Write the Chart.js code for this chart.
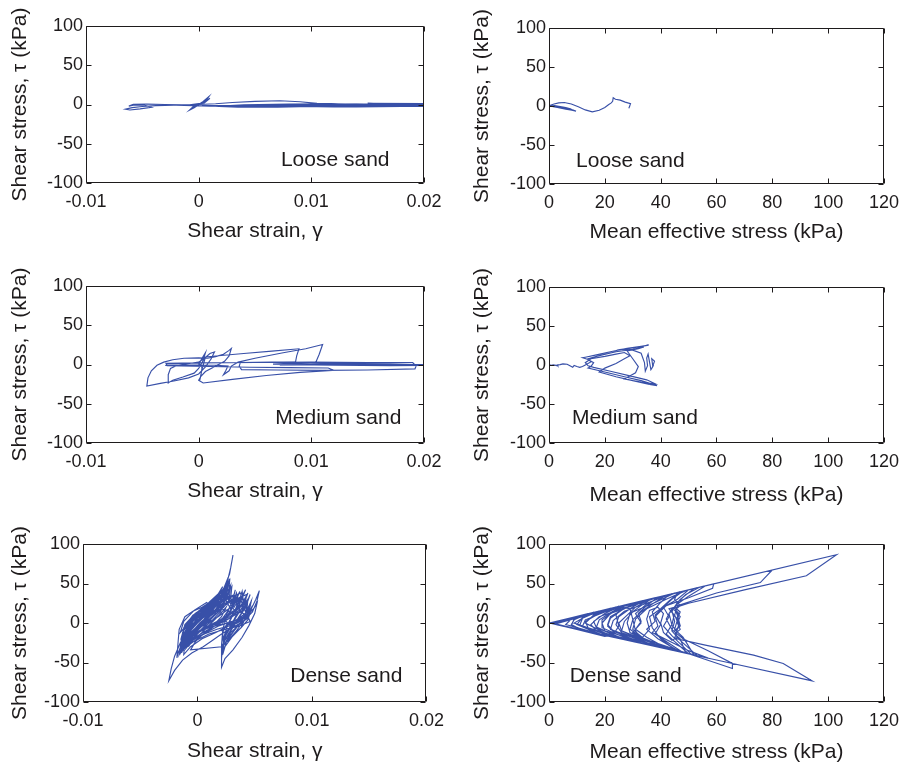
<!DOCTYPE html>
<html lang="en">
<head>
<meta charset="UTF-8">
<title>Shear stress response of loose, medium and dense sand</title>
<script src="https://cdn.jsdelivr.net/npm/chart.js"></script>
<style>
  html, body { margin: 0; padding: 0; background: #fff; overflow: hidden; }
  canvas { position: absolute; }
</style>
</head>
<body>
<canvas id="looseStrain"></canvas>
<canvas id="loosePath"></canvas>
<canvas id="mediumStrain"></canvas>
<canvas id="mediumPath"></canvas>
<canvas id="denseStrain"></canvas>
<canvas id="densePath"></canvas>
<script>
// axis ticks
const strainTicks = [-0.01, 0, 0.01, 0.02];
const strainTickLabels = ['-0.01', '0', '0.01', '0.02'];
const meanStressTicks = [0, 20, 40, 60, 80, 100, 120];
const meanStressTickLabels = ['0', '20', '40', '60', '80', '100', '120'];
const tauTicks = [-100, -50, 0, 50, 100];
const tauTickLabels = ['-100', '-50', '0', '50', '100'];

// loose sand: [shear strain, shear stress kPa]
const looseStrainLoop = [
  [0, 0], [0.0004, 4], [0.0009, 10], [0.0007, 6], [0.0002, 1.5], [-0.0004, -4], [-0.0008, -7], [-0.0005, -3],
  [0.0002, 1], [0.0007, 5], [0.001, 8], [0.0005, 2], [-0.0008, -0.5], [-0.0022, -1], [-0.0038, -1.5], [-0.005, -2.5],
  [-0.0059, -4], [-0.0065, -6], [-0.0061, -7], [-0.0052, -5.5], [-0.0042, -3.5], [-0.0048, -1], [-0.0057, -0.5],
  [-0.0062, -2], [-0.0058, 0.3], [-0.0046, 0.5], [-0.003, 0], [-0.0015, -0.5], [0, 0], [0.0015, 1], [0.003, 2.5],
  [0.005, 4], [0.0072, 4.8], [0.009, 3.5], [0.0105, 1.5], [0.013, 0.3], [0.016, -0.5], [0.0185, -1], [0.0205, -1.5],
  [0.019, 0.5], [0.016, 1], [0.0125, -0.5], [0.0085, -2], [0.0055, -3], [0.0035, -3.5], [0.0018, -2.5], [0.0003, -1],
  [0.0035, -1.5], [0.007, -0.5], [0.011, -1], [0.015, -1.5], [0.0205, -2], [0.0175, 0], [0.013, 0.5], [0.0095, -1],
  [0.006, -2.5], [0.0045, -2], [0.008, -1.5], [0.012, -2], [0.0165, -1], [0.0205, -0.5], [0.0185, 1], [0.0145, 0],
  [0.0115, -1.5], [0.015, -2.5], [0.0205, -1], [0.016, -2], [0.011, -2.5], [0.007, -3], [0.009, -1], [0.014, 0.5],
  [0.0205, 0.5], [0.017, -1], [0.012, -2], [0.006, -1], [0.003, -2], [0, -1.5], [-0.002, -1], [0.001, -2],
  [0.005, -1], [0.01, -2], [0.0205, -1.5], [0.018, -2.5], [0.014, -3], [0.01, -2.5], [0.007, -3.5], [0.004, -3],
  [0.002, -2], [0.004, -0.5], [0.008, 0.5], [0.012, 1], [0.016, 0], [0.0205, -0.5], [0.017, -2], [0.013, -1.5],
  [0.009, -2.5], [0.012, -3], [0.016, -2.5], [0.0205, -2.5], [0.018, -0.5], [0.015, 1.5], [0.0205, 1]
];
// loose sand: [mean effective stress kPa, shear stress kPa]
const loosePath = [
  [29, 0.5], [28.6, -3], [29.2, 3], [27.3, 5], [25.5, 7.5], [23.8, 8.7], [23, 10.5], [22.8, 6], [22.3, 4], [21.3, 1.5],
  [20, -2], [18, -5.5], [15.5, -7.5], [13, -5], [10.5, -1], [8, 2.5], [5.5, 4.5], [3.5, 4], [1.8, 2.5], [0.5, 1],
  [0, 0], [3, -1.5], [6, -3.5], [9.7, -6.5], [7, -4.5], [4, -2.5], [1.5, -1], [0.2, 0.3], [2, -1], [5, -3], [8, -5],
  [9.3, -6], [6, -4], [3, -2], [0.8, -0.3], [0.2, 0.5], [3, -0.8], [7, -3.5], [9, -5.5], [5, -2.5], [2, -0.8],
  [0.3, 0.2], [4, -1], [8, -4], [6, -2], [2, 0.5], [0, 0]
];

// medium sand
const mediumStrainLoop = [
  [0, 0], [0.0003, 8], [0.0006, 15], [0.0004, 5], [0, -5], [-0.0004, -11], [-0.0014, -16], [-0.0023, -20],
  [-0.0027, -23.5], [-0.0027, -13], [-0.0025, -5], [-0.0019, -1], [-0.001, 1], [0, 3], [0.0006, 9], [0.001, 14],
  [0.0014, 16], [0.0011, 7], [0.0006, -3], [0, -12], [-0.0009, -17], [-0.0022, -21], [-0.0034, -24], [-0.0046, -27.5],
  [-0.0045, -17], [-0.0042, -8], [-0.0037, -1], [-0.0031, 3], [-0.0023, 6], [-0.0013, 8], [0, 8.5], [0.0008, 8],
  [0.0015, 10], [0.0022, 13], [0.0027, 18], [0.0029, 20.5], [0.0027, 11], [0.0023, 4], [0.0014, -3], [0.0006, -9],
  [0.0002, -15], [0, -20], [0.0004, -23.5], [0.003, -19], [0.006, -14], [0.009, -10], [0.012, -7.5], [0.0115, -4.5],
  [0.008, -4], [0.0045, -3.5], [0.001, -2.5], [-0.0028, -1.5], [-0.0029, 1.5], [0, 2], [0.0003, -4], [0.0002, -14],
  [0.0001, -20], [0.0003, -6], [0.0006, 9.5], [0.002, 11.5], [0.004, 14], [0.0065, 17], [0.0089, 20], [0.0087, 11],
  [0.0086, 3.5], [0.0065, 3], [0.0037, 2.5], [0.0036, -2], [0.0038, -6.5], [0.007, -7], [0.011, -7.5], [0.015, -7],
  [0.0192, -5.5], [0.0193, -2], [0.019, 2.5], [0.015, 2.5], [0.01, 3], [0.005, 2.5], [0, 2], [-0.0028, 1],
  [-0.0029, -1], [-0.001, -0.5], [0.0015, -1], [0.0026, -2], [0.0024, -8], [0.0022, -13], [0.0027, -8], [0.0029, -2],
  [0.0035, 3], [0.005, 8], [0.0075, 15], [0.0095, 20], [0.011, 25.5], [0.0107, 13], [0.0104, 3], [0.008, 1.5],
  [0.0066, 0.5], [0.01, 0], [0.014, -0.5], [0.018, -1], [0.0205, -0.5], [0.017, 1], [0.012, 1.5], [0.0068, 0],
  [0.012, -1], [0.017, -1.5], [0.0205, -1], [0.016, 0.5], [0.011, 0], [0.0072, -1], [0.013, 0.5], [0.0205, 0]
];
const mediumPath = [
  [37.5, 0], [37, -3], [37.8, 5], [36.8, 8], [37.2, -2], [36.5, -6], [36, 4], [35.5, 14], [35, 9], [35.3, -1],
  [34.5, -8], [34.2, 3], [33, 15], [30, 19], [26, 20], [30, 22], [35.7, 25.5], [33, 24], [28, 21.5], [22, 17],
  [17, 13], [13, 10], [12, 9.3], [14, 7], [16, 3], [15, -2], [14, -4], [20, -9], [27, -15], [33, -20], [38.7, -26.4],
  [36, -25], [30, -20], [24, -15], [18, -9], [20, -4], [24, 2], [27, 8], [29, 12], [27, 16], [24, 14], [20, 11],
  [15, 8], [13, 3], [14, -1], [16, -3], [22, -8], [29, -14], [35, -19], [38, -24], [33, -22], [27, -18], [31, -10],
  [32, -2], [30, 8], [28, 18], [32, 21], [34, 23], [30, 20], [24, 17], [18, 12], [14, 8], [15, 4], [13, 0], [12, -2],
  [11, -3], [10, -2], [9, -0.5], [8.5, -3], [7.5, -1], [6.5, 1], [5, 1.5], [4, 0.5], [3, 0], [3.2, -1.2],
  [2.5, -0.5], [1.5, 0.3], [1, -0.5], [0.5, 0], [0, 0.3]
];

// dense sand
const denseStrainLoop = [
  [0, 0], [0.0006, 14], [0.0012, 24], [0.0008, 10], [0.0002, -4], [-0.0005, -16], [-0.0009, -24], [-0.0006, -8],
  [0, 6], [0.0009, 20], [0.0017, 32], [0.0022, 42], [0.0018, 26], [0.0011, 12], [0.0003, -2], [-0.0006, -16],
  [-0.0012, -28], [-0.0014, -35], [-0.0012, -18], [-0.0008, -4], [0, 10], [0.001, 22], [0.002, 34], [0.0026, 48],
  [0.0028, 56], [0.0025, 40], [0.0019, 26], [0.0012, 14], [0.0003, 0], [-0.0006, -12], [-0.0013, -24], [-0.0017, -38],
  [-0.0018, -44], [-0.0017, -25], [-0.0016, -8], [-0.0011, 8], [-0.0004, 15], [0.0004, 20], [0.0015, 30], [0.0023, 44],
  [0.0028, 62], [0.0031, 86], [0.0029, 70], [0.0026, 52], [0.0021, 36], [0.0012, 20], [0.0002, 6], [-0.0008, -10],
  [-0.0015, -25], [-0.002, -42], [-0.0023, -58], [-0.0025, -73], [-0.002, -60], [-0.0013, -47], [-0.0005, -38],
  [0.0005, -30], [0.0012, -23], [0.0021, -14], [0.003, -6], [0.004, 2], [0.0048, 14], [0.0052, 28], [0.0054, 41],
  [0.0051, 30], [0.0046, 15], [0.0038, 4], [0.003, -4], [0.0024, -14], [0.0022, -30], [0.0021, -45], [0.0021, -56],
  [0.0024, -45], [0.0031, -34], [0.0039, -18], [0.0045, -3], [0.005, 12], [0.0052, 25], [0.0049, 18], [0.0042, 8],
  [0.0034, 2], [0.0026, -2], [0.0022, -10], [0.0021, -28], [0.0021, -42], [0.0024, -30], [0.003, -18], [0.0038, -6],
  [0.0043, 10], [0.0045, 22], [0.0042, 12], [0.0034, 4], [0.0026, 0], [0.0018, -4], [0.001, -10], [0, -18],
  [-0.0008, -26], [-0.0013, -35], [-0.0011, -15], [-0.0006, 0], [0.0004, 12], [0.0014, 22], [0.0022, 30],
  [0.0027, 42], [0.0029, 48], [0.0028, 35], [0.0031, 25], [0.0034, 38], [0.0036, 25], [0.0039, 40], [0.004, 28],
  [0.0036, 16], [0.0028, 6], [0.0018, 0], [0.0006, -8], [-0.0004, -16], [-0.0011, -30], [-0.0009, -12],
  [-0.0004, 2], [0.0006, 14], [0.0016, 26], [0.0024, 36], [0.0026, 40], [0.0025, 28], [0.0029, 18], [0.0033, 30],
  [0.0035, 18], [0.0038, 28], [0.0041, 18], [0.0043, 26], [0.0042, 10], [0.0034, 2], [0.0025, -3], [0.0022, -12],
  [0.0023, -35], [0.0026, -20], [0.0033, -8], [0.004, 5], [0.0044, 18], [0.0046, 24], [0.0043, 8], [0.0035, 0],
  [0.0027, -4], [0.0017, -8], [0.0006, -14], [-0.0005, -22], [-0.0012, -32], [-0.0013, -20], [-0.0009, -4],
  [-0.0002, 8], [0.0008, 18], [0.0018, 28], [0.0026, 44], [0.0028, 52], [0.0027, 36], [0.0021, 22], [0.0012, 10],
  [0.0002, -2], [-0.0007, -14], [-0.0012, -26], [-0.001, -8], [-0.0005, 5], [0.0005, 15], [0.0015, 24],
  [0.0022, 33], [0.0028, 30], [0.0032, 20], [0.0037, 32], [0.004, 22], [0.0044, 30], [0.0043, 14], [0.0036, 5],
  [0.0028, 0], [0.002, -2], [0.001, -6], [0, -12], [-0.0008, -20], [-0.0011, -22], [-0.0008, -6], [0, 4],
  [0.001, 12], [0.002, 18], [0.0026, 16], [0.0032, 10], [0.0038, 14], [0.0044, 8], [0.0046, 2],
  [0.0036, -4], [0.0024, -8], [0.001, -14], [-0.0004, -24], [-0.0014, -32], [-0.0006, -6], [0.001, 16],
  [0.0025, 40], [0.0022, 24], [0.0008, 6], [-0.0006, -14], [-0.0013, -30], [-0.0011, -14], [-0.0003, 4],
  [0.0012, 20], [0.0028, 44], [0.0026, 30], [0.0012, 12], [-0.0003, -8], [-0.0012, -26], [-0.001, -12], [0, 6],
  [0.0015, 22], [0.0032, 36], [0.0031, 22], [0.0018, 8], [0.0004, -4], [-0.0009, -22], [-0.0014, -38],
  [-0.001, -20], [0.0002, 0], [0.0017, 18], [0.0035, 34], [0.0034, 18], [0.002, 4], [0.0006, -6], [-0.0008, -18],
  [-0.0005, -4], [0.0006, 10], [0.0019, 26], [0.0038, 38], [0.0037, 22], [0.0025, 8], [0.001, -4], [-0.0004, -16],
  [-0.0012, -28], [-0.0009, -10], [0.0003, 8], [0.0016, 22], [0.0027, 34], [0.0041, 30], [0.0039, 16], [0.0026, 4],
  [0.0012, -6], [-0.0002, -18], [-0.001, -32], [-0.0006, -16], [0.0005, 2], [0.0018, 16], [0.003, 28], [0.0043, 36],
  [0.0041, 20], [0.0028, 8], [0.0016, 0], [0.0003, -10], [-0.0009, -24], [-0.0007, -8], [0.0004, 8], [0.0017, 24],
  [0.0025, 46], [0.0023, 30], [0.0012, 16], [0, 0], [-0.001, -16], [-0.0015, -30], [-0.0013, -12], [-0.0007, 2],
  [0.0005, 16], [0.0019, 30], [0.0027, 50], [0.0025, 34], [0.0015, 20], [0.0003, 4], [-0.0008, -10],
  [-0.0014, -24], [-0.0012, -6], [-0.0004, 10], [0.001, 22], [0.0024, 38], [0.0029, 24], [0.0033, 14],
  [0.0039, 24], [0.0042, 14], [0.0045, 20], [0.0044, 6], [0.0036, -2], [0.0028, -8], [0.0023, -20], [0.0022, -40],
  [0.0025, -24], [0.0031, -12], [0.0037, 0], [0.0042, 12], [0.0047, 28], [0.0045, 14], [0.0038, 4], [0.003, -2],
  [0.0024, -6], [0.0016, -12], [0.0004, -20], [-0.0006, -30], [-0.0012, -40], [-0.0011, -22], [-0.0006, -6],
  [0.0003, 8], [0.0013, 18], [0.0021, 26], [0.0026, 36], [0.003, 46], [0.0029, 32], [0.0023, 20], [0.0014, 8],
  [0.0004, -4], [-0.0006, -18], [-0.001, -28], [-0.0007, -12], [0, 2], [0.001, 12], [0.002, 20], [0.0027, 28],
  [0.0033, 26], [0.0038, 34], [0.0041, 24],
  [-0.0015, -36], [-0.0008, -22], [0.0002, -6], [0.0012, 10], [0.002, 24], [0.0024, 34], [0.0016, 18],
  [0.0006, 2], [-0.0004, -14], [-0.0012, -30], [-0.0016, -40], [-0.0014, -26], [-0.0008, -12], [0.0001, 4],
  [0.0011, 18], [0.0019, 30], [0.0023, 40], [0.0018, 30], [0.0008, 14], [-0.0002, -2], [-0.001, -18],
  [-0.0014, -30], [-0.0013, -16], [-0.0007, -2], [0.0003, 12], [0.0013, 24], [0.002, 36], [0.0014, 24],
  [0.0004, 8], [-0.0006, -8], [-0.0013, -22], [-0.0012, -8], [-0.0005, 6], [0.0005, 18], [0.0015, 30],
  [0.0021, 42], [0.0017, 34], [0.0009, 22], [-0.0001, 8], [-0.0009, -6], [-0.0014, -18], [-0.0011, -2],
  [-0.0002, 12], [0.0008, 22], [0.0017, 34], [0.0022, 46], [0.0019, 38], [0.001, 26], [0, 14], [-0.0008, 0],
  [-0.0015, -12], [-0.0012, 2], [-0.0003, 16], [0.0008, 26], [0.0012, 20], [0.0016, 12], [0.0008, 2],
  [-0.0002, -10], [-0.001, -24], [-0.0013, -34], [-0.0009, -26], [-0.0002, -16], [0.0006, -4], [0.0014, 8],
  [0.002, 18], [0.0024, 26], [0.002, 14], [0.0012, 2], [0.0004, -8], [-0.0004, -20], [-0.0008, -30],
  [-0.0004, -22], [0.0004, -12], [0.0012, 0], [0.0019, 10], [0.0025, 20], [0.0021, 8], [0.0013, -4],
  [0.0005, -14], [-0.0002, -24], [-0.0006, -34],
  [0.0021, -30], [0.0026, -16], [0.0032, -2], [0.0038, 12], [0.0043, 26], [0.0046, 36], [0.0042, 20],
  [0.0036, 6], [0.003, -8], [0.0024, -22], [0.0022, -30], [0.0025, -14], [0.0031, 2], [0.0036, 16],
  [0.0041, 30], [0.0044, 38], [0.004, 22], [0.0034, 8], [0.0028, -6], [0.0023, -18], [0.0026, -4],
  [0.0031, 10], [0.0035, 24], [0.0039, 34], [0.0042, 42], [0.0038, 28], [0.0032, 14], [0.0027, 0],
  [0.0022, -8], [0.0025, 6], [0.003, 20], [0.0034, 32], [0.0037, 40], [0.0033, 26], [0.0028, 12],
  [0.0023, 2], [0.0027, 16], [0.0031, 30], [0.0033, 42], [0.003, 26], [0.0026, 14], [0.0022, 6],
  [0.0028, -2], [0.0034, 2], [0.004, 8], [0.0046, 14], [0.0041, 4], [0.0035, -4], [0.0029, -12],
  [0.0024, -26], [0.0028, -20], [0.0034, -10], [0.0039, 0], [0.0044, 10], [0.0048, 22], [0.0044, 4],
  [0.0038, -6], [0.0032, -14], [0.0026, -24]
];
const densePath = [
  [46, 0], [46.8, -6], [45.6, 5], [46.6, 12], [45.2, 17], [46.2, 8], [47, -4], [45.5, -9], [44, -3], [44.8, 10],
  [43, 18], [45, 20], [47, 14], [46, 5], [47, -3], [45, -10], [46, -18], [44, -22], [41, -12], [40, 0], [41, 12],
  [39, 20], [36, 16], [35, 5], [36, -8], [33, -20], [31, -10], [30, 5], [29, 18], [26, 20], [24, 10], [25, -4],
  [23, -15], [20, -17], [10, -8], [2, -1.5], [0.5, 0],
  [40, 33.6], [80, 67.2], [75.7, 51.2], [60, 38], [46, 22], [45, 10], [46.5, -2], [45, -19.5], [56, -28],
  [73.3, -40.7], [83.9, -51.2], [94.3, -73.3], [60, -46.8], [30, -23.4], [5, -3.9], [1, 0],
  [50, 42], [103, 86.4], [92.2, 59.7], [70, 42], [50, 25], [44, 18], [42, 5], [44, -8], [48, -20], [57, -35],
  [65.7, -51.2], [65.7, -57.6], [50, -39], [30, -23.4], [10, -7.8], [1, 0],
  [59, 49.6], [58.6, 44], [50, 32], [42, 22], [38, 8], [39, -4], [37, -12], [50, -35], [57, -44.5], [40, -31],
  [20, -15.6], [2, -1],
  [49, 41], [42, 30], [35, 18], [31, 5], [30, -8], [34, -20], [50, -39], [25, -19.5], [1, 0],
  [45, 37.8], [38, 26], [30, 14], [27, 2], [26, -10], [38, -27], [48, -37], [24, -18.7], [1, -0.5],
  [44, 37], [35, 25], [27, 15], [23, 3], [22, -8], [35, -25], [45, -35], [20, -15.6], [1, 0],
  [40, 33.6], [30, 22], [22, 12], [19, 0], [20, -10], [42, -32.8], [15, -11.7], [1, 0],
  [38, 31.9], [26, 18], [18, 8], [15, -2], [17, -10], [36, -28], [10, -7.8], [0.5, 0],
  [35, 29.4], [20, 14], [13, 4], [12, -4], [30, -23.4], [5, -3.9], [0, 0],
  [30, 25.2], [14, 10], [9, 0], [25, -19.5], [2, -1.5], [25, 21], [8, 5], [6, -2], [20, -15.6], [0.5, 0],
  [52, 43.7], [47, 30], [44, 16], [45, 2], [44, -10], [47, -22], [53, -41], [26, -20], [0.5, 0],
  [56, 47], [50, 34], [46, 24], [43, 12], [44, -2], [42, -14], [50, -39], [20, -15.6], [0.5, 0],
  [47, 39.5], [43, 28], [40, 18], [36, 8], [37, -6], [40, -20], [46, -36], [18, -14], [0.5, 0],
  [42, 35.3], [37, 24], [33, 14], [30, 4], [29, -8], [33, -18], [44, -34], [12, -9.4], [0.5, 0],
  [50, 42], [46, 30], [41, 20], [38, 10], [40, -2], [38, -14], [48, -37.4], [15, -11.7], [0.5, 0],
  [36, 30.2], [31, 20], [28, 10], [25, 0], [26, -10], [38, -29.6], [8, -6.2], [0.5, 0],
  [41, 34.4], [35, 24], [31, 12], [33, 0], [30, -12], [40, -31], [6, -4.7], [0.5, 0],
  [32, 26.9], [26, 16], [22, 6], [21, -4], [24, -14], [33, -25.7], [4, -3.1], [0.5, 0],
  [27, 22.7], [22, 13], [18, 4], [17, -5], [27, -21], [3, -2.3], [0.5, 0],
  [24, 20.2], [17, 10], [13, 2], [14, -6], [22, -17], [2, -1.5], [0.5, 0],
  [20, 16.8], [12, 7], [10, -2], [18, -14], [0.5, 0], [16, 13.4], [9, 5], [8, -3], [14, -10.9], [0.5, 0],
  [54, 45.4], [49, 36], [46, 26], [44, 14], [46, 4], [45, -8], [48, -18], [52, -40.6], [0.5, 0],
  [48, 40.3], [44, 30], [41, 20], [43, 8], [41, -4], [44, -16], [51, -39.8], [0.5, 0],
  [43, 36.1], [40, 26], [37, 14], [38, 2], [35, -8], [39, -20], [47, -36.7], [0.5, 0],
  [39, 32.8], [35, 22], [32, 12], [33, 2], [31, -8], [35, -18], [43, -33.5], [0.5, 0],
  [37, 31.1], [33, 22], [29, 12], [28, 0], [29, -12], [41, -32], [0.5, 0],
  [34, 28.6], [29, 18], [25, 8], [24, -2], [26, -12], [39, -30.4], [0.5, 0],
  [31, 26], [26, 16], [22, 8], [21, -2], [23, -10], [34, -26.5], [0.5, 0],
  [28, 23.5], [23, 14], [19, 4], [19, -6], [31, -24.2], [0.5, 0],
  [26, 21.8], [20, 12], [16, 2], [17, -6], [28, -21.8], [0.5, 0],
  [22, 18.5], [16, 10], [13, 0], [23, -18], [0.5, 0], [18, 15.1], [12, 6], [11, -3], [19, -14.8], [0.5, 0],
  [14, 11.8], [9, 4], [8, -2], [12, -9.4], [0.5, 0],
  [46, 38.6], [45, 30], [47, 22], [45, 16], [47, 8], [46, 0], [47, -8], [45, -14], [47, -20], [49, -38.2], [0, 0]
];

const ink = '#1e1b1c';
const lineBlue = '#3850a8';
const fontFamily = '"Liberation Sans", Arial, Helvetica, sans-serif';
Chart.defaults.font.family = fontFamily;
Chart.defaults.color = ink;

// box with inward ticks on all four sides, MATLAB style
const frame = {
  id: 'frame',
  afterDatasetsDraw(chart) {
    const { ctx, chartArea: a, scales } = chart;
    const len = 5;
    const l = Math.round(a.left) + 0.5, r = Math.round(a.right) - 0.5;
    const t = Math.round(a.top) + 0.5, b = Math.round(a.bottom) - 0.5;
    ctx.save();
    ctx.strokeStyle = ink;
    ctx.lineWidth = 1;
    ctx.beginPath();
    ctx.rect(l, t, r - l, b - t);
    scales.x.ticks.forEach(tk => {
      const px = Math.round(scales.x.getPixelForValue(tk.value)) + 0.5;
      ctx.moveTo(px, b); ctx.lineTo(px, b - len);
      ctx.moveTo(px, t); ctx.lineTo(px, t + len);
    });
    scales.y.ticks.forEach(tk => {
      const py = Math.round(scales.y.getPixelForValue(tk.value)) + 0.5;
      ctx.moveTo(l, py); ctx.lineTo(l + len, py);
      ctx.moveTo(r, py); ctx.lineTo(r - len, py);
    });
    ctx.stroke();
    ctx.restore();
  }
};

// sample label inside the axes
const noteLabel = {
  id: 'note',
  afterDraw(chart, args, opts) {
    const { ctx, scales: { x, y } } = chart;
    ctx.save();
    ctx.font = '21px ' + fontFamily;
    ctx.fillStyle = ink;
    ctx.textAlign = 'left';
    ctx.textBaseline = 'alphabetic';
    ctx.fillText(opts.text, x.getPixelForValue(opts.x), y.getPixelForValue(opts.y));
    ctx.restore();
  }
};

const strainAxis = { min: -0.01, max: 0.02, ticks: strainTicks, labels: strainTickLabels, title: 'Shear strain, \u03b3' };
const meanAxis = { min: 0, max: 120, ticks: meanStressTicks, labels: meanStressTickLabels, title: 'Mean effective stress (kPa)' };

// box = plot area in page pixels, xTitle / yTitle = centre line of the axis titles
function drawPanel(id, box, series, xAxis, note) {
  const canvas = document.getElementById(id);
  const left = box.col === 0 ? 0 : 458;
  const width = box.col === 0 ? 452 : 449;
  const top = box.T - 28;
  const bottom = box.B + 64;
  canvas.width = width;
  canvas.height = bottom - top;
  canvas.style.left = left + 'px';
  canvas.style.top = top + 'px';
  const titleHalf = 21 * 1.2 / 2;

  new Chart(canvas, {
    type: 'scatter',
    data: {
      datasets: [{
        data: series.map(p => ({ x: p[0], y: p[1] })),
        showLine: true,
        borderColor: lineBlue,
        borderWidth: 1.15,
        pointRadius: 0,
        tension: 0,
        fill: false
      }]
    },
    options: {
      responsive: false,
      animation: false,
      events: [],
      layout: { padding: { left: 0, top: box.T - top, right: left + width - box.R, bottom: 0 } },
      scales: {
        x: {
          type: 'linear',
          min: xAxis.min,
          max: xAxis.max,
          afterBuildTicks: s => { s.ticks = xAxis.ticks.map(v => ({ value: v })); },
          afterFit: s => { s.height = bottom - box.B; },
          grid: { display: false, drawTicks: false },
          border: { display: false },
          ticks: { padding: 8, autoSkip: false, maxRotation: 0, font: { size: 18 }, callback: (v, i) => xAxis.labels[i] },
          title: { display: true, text: xAxis.title, font: { size: 21 }, padding: { top: 0, bottom: bottom - box.xTitle - titleHalf } }
        },
        y: {
          type: 'linear',
          min: -100,
          max: 100,
          afterBuildTicks: s => { s.ticks = tauTicks.map(v => ({ value: v })); },
          afterFit: s => { s.width = box.L - left; },
          grid: { display: false, drawTicks: false },
          border: { display: false },
          ticks: { padding: 3, autoSkip: false, font: { size: 18 }, callback: (v, i) => tauTickLabels[i] },
          title: { display: true, text: 'Shear stress, \u03c4 (kPa)', font: { size: 21 }, padding: { top: box.yTitle - left - titleHalf, bottom: 0 } }
        }
      },
      plugins: {
        legend: { display: false },
        tooltip: { enabled: false },
        note: note
      }
    },
    plugins: [frame, noteLabel]
  });
}

drawPanel('looseStrain', { col: 0, L: 86, T: 26, R: 424, B: 183, xTitle: 231.5, yTitle: 19.8 }, looseStrainLoop, strainAxis, { text: 'Loose sand', x: 0.0073, y: -78 });
drawPanel('loosePath', { col: 1, L: 549, T: 28, R: 888, B: 184, xTitle: 232, yTitle: 482.4 }, loosePath, meanAxis, { text: 'Loose sand', x: 9.7, y: -78 });
drawPanel('mediumStrain', { col: 0, L: 86, T: 286, R: 424, B: 443, xTitle: 491, yTitle: 19.8 }, mediumStrainLoop, strainAxis, { text: 'Medium sand', x: 0.0068, y: -75.5 });
drawPanel('mediumPath', { col: 1, L: 549, T: 287, R: 888, B: 443, xTitle: 495, yTitle: 482.4 }, mediumPath, meanAxis, { text: 'Medium sand', x: 8.2, y: -75 });
drawPanel('denseStrain', { col: 0, L: 83, T: 544, R: 429, B: 702, xTitle: 751, yTitle: 19.8 }, denseStrainLoop, strainAxis, { text: 'Dense sand', x: 0.0081, y: -74.5 });
drawPanel('densePath', { col: 1, L: 549, T: 544, R: 888, B: 702, xTitle: 752, yTitle: 482.4 }, densePath, meanAxis, { text: 'Dense sand', x: 7.4, y: -74.5 });
</script>
</body>
</html>
